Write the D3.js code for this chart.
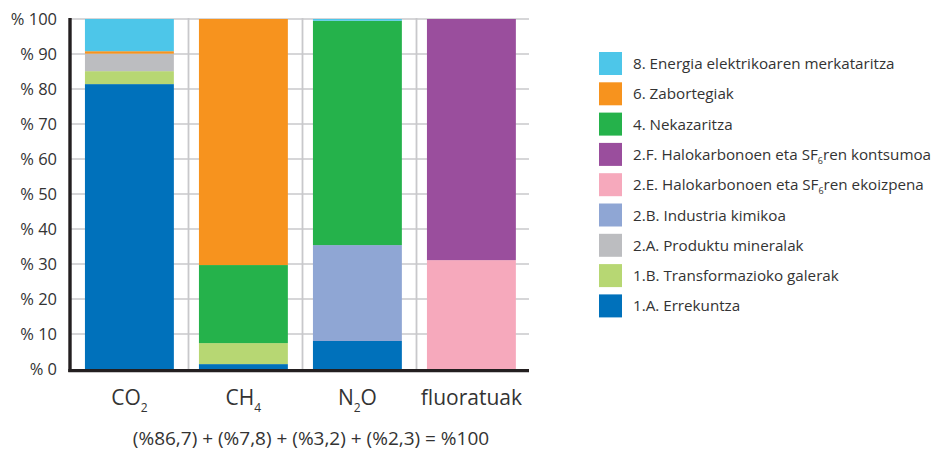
<!DOCTYPE html>
<html>
<head>
<meta charset="utf-8">
<script src="https://cdn.jsdelivr.net/npm/d3@7"></script>
<style>
  body { margin: 0; background: #fff; }
  text { font-family: "Open Sans", sans-serif; fill: #333; }
</style>
</head>
<body>
<div id="chart"></div>
<script>
// gases on the x axis
var categories = ["CO2", "CH4", "N2O", "fluoratuak"];
var catLabels = [["CO", "2", ""], ["CH", "4", ""], ["N", "2", "O"], ["fluoratuak", "", ""]];

// sectors, bottom of the stack first
var sectors = ["1A", "1B", "2A", "2B", "2E", "2F", "4", "6", "8"];
var sectorNames = {
    "1A": ["1.A. Errekuntza"],
    "1B": ["1.B. Transformazioko galerak"],
    "2A": ["2.A. Produktu mineralak"],
    "2B": ["2.B. Industria kimikoa"],
    "2E": ["2.E. Halokarbonoen eta SF", "6", "ren ekoizpena"],
    "2F": ["2.F. Halokarbonoen eta SF", "6", "ren kontsumoa"],
    "4": ["4. Nekazaritza"],
    "6": ["6. Zabortegiak"],
    "8": ["8. Energia elektrikoaren merkataritza"]
};
var colors = ["#0071bb", "#b7d773", "#bcbdc0", "#8fa6d4", "#f6a9bc", "#9a4e9d", "#25b24b", "#f7931e", "#4dc6e9"];

// share (%) of each sector, per gas: CO2, CH4, N2O, fluoratuak
var v1A = [81.4, 1.4, 8.0, 0];
var v1B = [3.7, 6.0, 0, 0];
var v2A = [5.0, 0, 0, 0];
var v2B = [0, 0, 27.4, 0];
var v2E = [0, 0, 0, 31.1];
var v2F = [0, 0, 0, 68.9];
var v4 = [0, 22.3, 64.1, 0];
var v6 = [0.7, 70.3, 0, 0];
var v8 = [9.2, 0, 0.5, 0];

var yTicks = [0, 10, 20, 30, 40, 50, 60, 70, 80, 90, 100];
var footnote = "(%86,7) + (%7,8) + (%3,2) + (%2,3) = %100";

var series = [v1A, v1B, v2A, v2B, v2E, v2F, v4, v6, v8];
var table = categories.map(function(c, i) {
    var row = { cat: c };
    sectors.forEach(function(s, j) { row[s] = series[j][i]; });
    return row;
});

var W = 939, H = 452;
var svg = d3.select("#chart").append("svg")
    .attr("width", W)
    .attr("height", H);

var x = d3.scaleBand().domain(categories).range([74, 530]).paddingInner(0);
var y = d3.scaleLinear().domain([0, 100]).range([369, 19]);
var color = d3.scaleOrdinal().domain(sectors).range(colors);

// grid
svg.append("g").selectAll("line.h")
    .data(yTicks.slice(1))
    .enter().append("line")
    .attr("x1", 70).attr("x2", x.range()[1] - 1)
    .attr("y1", function(d) { return y(d); })
    .attr("y2", function(d) { return y(d); })
    .attr("stroke", "#c8c8cb")
    .attr("stroke-width", 1.6);

svg.append("g").selectAll("line.v")
    .data(categories.slice(1))
    .enter().append("line")
    .attr("x1", function(d) { return x(d) + 0.5; })
    .attr("x2", function(d) { return x(d) + 0.5; })
    .attr("y1", y(100) - 1).attr("y2", y(0))
    .attr("stroke", "#c8c8cb")
    .attr("stroke-width", 1.8);

// stacked bars
var stack = d3.stack().keys(sectors)(table);
var bw = x.bandwidth() * 0.78;
svg.append("g").selectAll("g")
    .data(stack)
    .enter().append("g")
    .attr("fill", function(d) { return color(d.key); })
    .selectAll("rect")
    .data(function(d) { return d; })
    .enter().append("rect")
    .attr("x", function(d) { return x(d.data.cat) + x.bandwidth() * 0.096; })
    .attr("width", bw)
    .attr("y", function(d) { return y(d[1]); })
    .attr("height", function(d) { return y(d[0]) - y(d[1]); });

// axes
svg.append("line")
    .attr("x1", 70).attr("x2", 70)
    .attr("y1", y(100) - 1).attr("y2", 372)
    .attr("stroke", "#231f20").attr("stroke-width", 3.4);
svg.append("line")
    .attr("x1", 68.3).attr("x2", x.range()[1] - 1)
    .attr("y1", 370.6).attr("y2", 370.6)
    .attr("stroke", "#231f20").attr("stroke-width", 3.4);

svg.append("g").selectAll("text")
    .data(yTicks)
    .enter().append("text")
    .attr("x", 57)
    .attr("y", function(d) { return y(d) + 5.8; })
    .attr("text-anchor", "end")
    .style("font-size", "16.5px")
    .text(function(d) { return "% " + d; });

// category labels with subscripts
var xl = svg.append("g").selectAll("text")
    .data(categories)
    .enter().append("text")
    .attr("x", function(d) { return x(d) + x.bandwidth() * 0.096 + bw / 2; })
    .attr("y", 405)
    .attr("text-anchor", "middle")
    .style("font-size", "21px");
xl.each(function(d, i) {
    var t = d3.select(this), p = catLabels[i];
    t.append("tspan").text(p[0]);
    if (p[1]) t.append("tspan").attr("dy", 7).style("font-size", "12px").text(p[1]);
    if (p[2]) t.append("tspan").attr("dy", -7).text(p[2]);
});

svg.append("text")
    .attr("x", 311).attr("y", 445)
    .attr("text-anchor", "middle")
    .style("font-size", "19px")
    .text(footnote);

// legend, top item is last in the stack
var legendKeys = sectors.slice().reverse();
var lg = svg.append("g").selectAll("g")
    .data(legendKeys)
    .enter().append("g")
    .attr("transform", function(d, i) { return "translate(599," + (52 + i * 30.3) + ")"; });
lg.append("rect")
    .attr("width", 23).attr("height", 23)
    .attr("fill", function(d) { return color(d); });
lg.append("text")
    .attr("x", 34).attr("y", 17)
    .style("font-size", "15.2px")
    .each(function(d) {
        var t = d3.select(this), p = sectorNames[d];
        t.append("tspan").text(p[0]);
        if (p[1]) {
            t.append("tspan").attr("dy", 4).style("font-size", "9px").text(p[1]);
            t.append("tspan").attr("dy", -4).text(p[2]);
        }
    });
</script>
</body>
</html>
